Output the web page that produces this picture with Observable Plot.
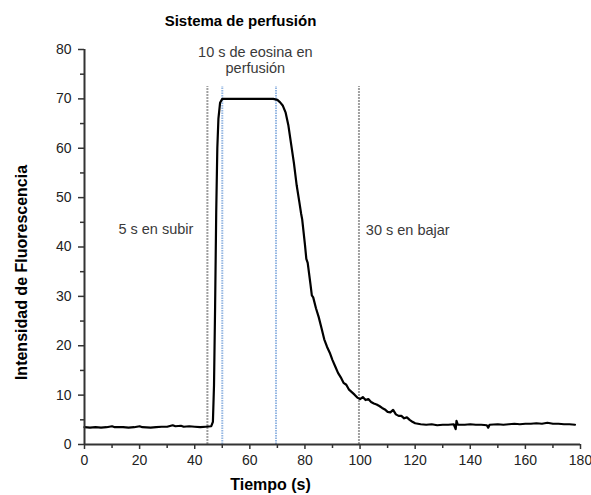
<!DOCTYPE html>
<html><head><meta charset="utf-8">
<script src="https://cdn.jsdelivr.net/npm/d3@7"></script>
<script src="https://cdn.jsdelivr.net/npm/@observablehq/plot@0.6"></script>
<style>body{margin:0;background:#fff} #chart svg{display:block}</style>
</head><body><div id="chart"></div>
<script>
const time = [0,2,4,6,8,10,11,14,16,18,20,21,24,26,28,30,32,33,35,36,38,40,42,44,46,46.6,47,47.4,47.8,48.2,48.6,49.2,50,55,60,65,68.5,70,71,72,73,74,75,76,77,78,78.6,79,80,80.5,81,82,82.5,83,84,85,86,87,88,89,90,91,92,93,94,95,96,97,98,99,100,101,102,103,104,105,106,107,108,109,110,111,112,113,114,115,116,117,118,119,120,122,124,126,128,130,132,134,134.7,135,135.5,138,140,142,144,146,146.5,147,150,152,154,156,158,160,162,164,166,168,170,172,174,176,178];
const intensity = [3.5,3.4,3.5,3.4,3.5,3.7,3.5,3.5,3.4,3.5,3.7,3.5,3.4,3.5,3.6,3.6,3.9,3.7,3.8,3.6,3.7,3.6,3.5,3.6,3.7,4.6,12,28,47,60,66,69.2,70,70,70,70,70,69.8,69.3,68.6,67.2,64.6,60.8,57,52.5,49,46.8,45.6,40.5,37.6,36.8,32.5,30.2,29.8,27.6,25.8,23.6,21.3,19.8,18.6,17.1,15.8,14.5,13.6,12.5,12.1,11.1,10.6,10.1,9.5,9.2,9.6,9.0,9.2,8.6,8.3,8.1,7.8,7.4,7.1,6.6,6.5,7.0,6.1,5.8,5.8,5.3,5.5,5.0,4.6,4.3,4.1,4.0,4.1,3.9,4.0,4.0,4.1,3.1,4.8,4.0,4.0,4.1,4.0,4.0,3.9,3.4,4.0,4.1,4.0,4.1,4.2,4.1,4.2,4.2,4.3,4.2,4.4,4.2,4.2,4.1,4.1,4.0];

const xTicks = [0,20,40,60,80,100,120,140,160,180];
const xMinorTicks = [10,30,50,70,90,110,130,150,170];
const yTicks = [0,10,20,30,40,50,60,70,80];
const yMinorTicks = [5,15,25,35,45,55,65,75];

const greyMarkers = [44.6, 99.6];
const blueMarkers = [50, 69.5];
const markerTop = 72.5;

const annotationText = ["10 s de eosina en", "perfusión", "5 s en subir"];
const annotationX = [62, 62, 25.9];
const annotationY = [78.5, 75.3, 42.7];
const rightNote = ["30 s en bajar"];
const rightNoteX = [102.1];
const rightNoteY = [42.5];

const titleText = "Sistema de perfusión";
const xLabel = "Tiempo (s)";
const yLabel = "Intensidad de Fluorescencia";

const data = time.map((t, i) => ({t, v: intensity[i]}));
const notes = annotationText.map((s, i) => ({s, x: annotationX[i], y: annotationY[i]}));
const notesR = rightNote.map((s, i) => ({s, x: rightNoteX[i], y: rightNoteY[i]}));

const font = "'Liberation Sans', Arial, sans-serif";
const plot = Plot.plot({
  width: 591, height: 495,
  marginLeft: 84, marginRight: 11, marginTop: 49, marginBottom: 51,
  style: {fontFamily: font, background: "#fff", color: "#222", overflow: "visible"},
  x: {domain: [0, 180]},
  y: {domain: [0, 80]},
  marks: [
    Plot.ruleX(greyMarkers, {x: d => d, y1: 0, y2: markerTop, stroke: "#a0a0a0", strokeWidth: 2, strokeDasharray: "2,1"}),
    Plot.ruleX(blueMarkers, {x: d => d, y1: 0, y2: markerTop, stroke: "#94b6e2", strokeWidth: 2, strokeDasharray: "1.5,1"}),
    Plot.line(data, {x: "t", y: "v", stroke: "#000", strokeWidth: 2.2}),
    Plot.axisX({ticks: xTicks, tickSize: 5, tickPadding: 6, fontSize: 14, label: null, tickFormat: d => d, stroke: "#333", strokeWidth: 1.5}),
    Plot.axisX({ticks: xMinorTicks, tickSize: 4, text: null, label: null, stroke: "#333", strokeWidth: 1.5}),
    Plot.axisY({ticks: yTicks, tickSize: 6, tickPadding: 7, fontSize: 14, label: null, stroke: "#333", strokeWidth: 1.5}),
    Plot.axisY({ticks: yMinorTicks, tickSize: 4, text: null, label: null, stroke: "#333", strokeWidth: 1.5}),
    Plot.ruleX([0], {stroke: "#333", strokeWidth: 2}),
    Plot.ruleY([0], {stroke: "#333", strokeWidth: 2}),
    Plot.text(notes, {x: "x", y: "y", text: "s", textAnchor: "middle", lineAnchor: "bottom", fontSize: 14.5, fill: "#3a3a3a"}),
    Plot.text(notesR, {x: "x", y: "y", text: "s", textAnchor: "start", lineAnchor: "bottom", fontSize: 14.5, fill: "#3a3a3a"}),
    Plot.text([titleText], {text: d => d, frameAnchor: "top-left", dx: 156, dy: -24, textAnchor: "middle", lineAnchor: "bottom", fontSize: 15, fontWeight: "bold", fill: "#000"}),
    Plot.text([xLabel], {text: d => d, frameAnchor: "bottom-left", dx: 186, dy: 45, textAnchor: "middle", lineAnchor: "bottom", fontSize: 16, fontWeight: "bold", fill: "#000"}),
    Plot.text([yLabel], {text: d => d, frameAnchor: "left", dx: -63, dy: 25.5, rotate: -90, textAnchor: "middle", lineAnchor: "middle", fontSize: 16, fontWeight: "bold", fill: "#000"})
  ]
});
document.getElementById("chart").appendChild(plot);
</script>
</body></html>
